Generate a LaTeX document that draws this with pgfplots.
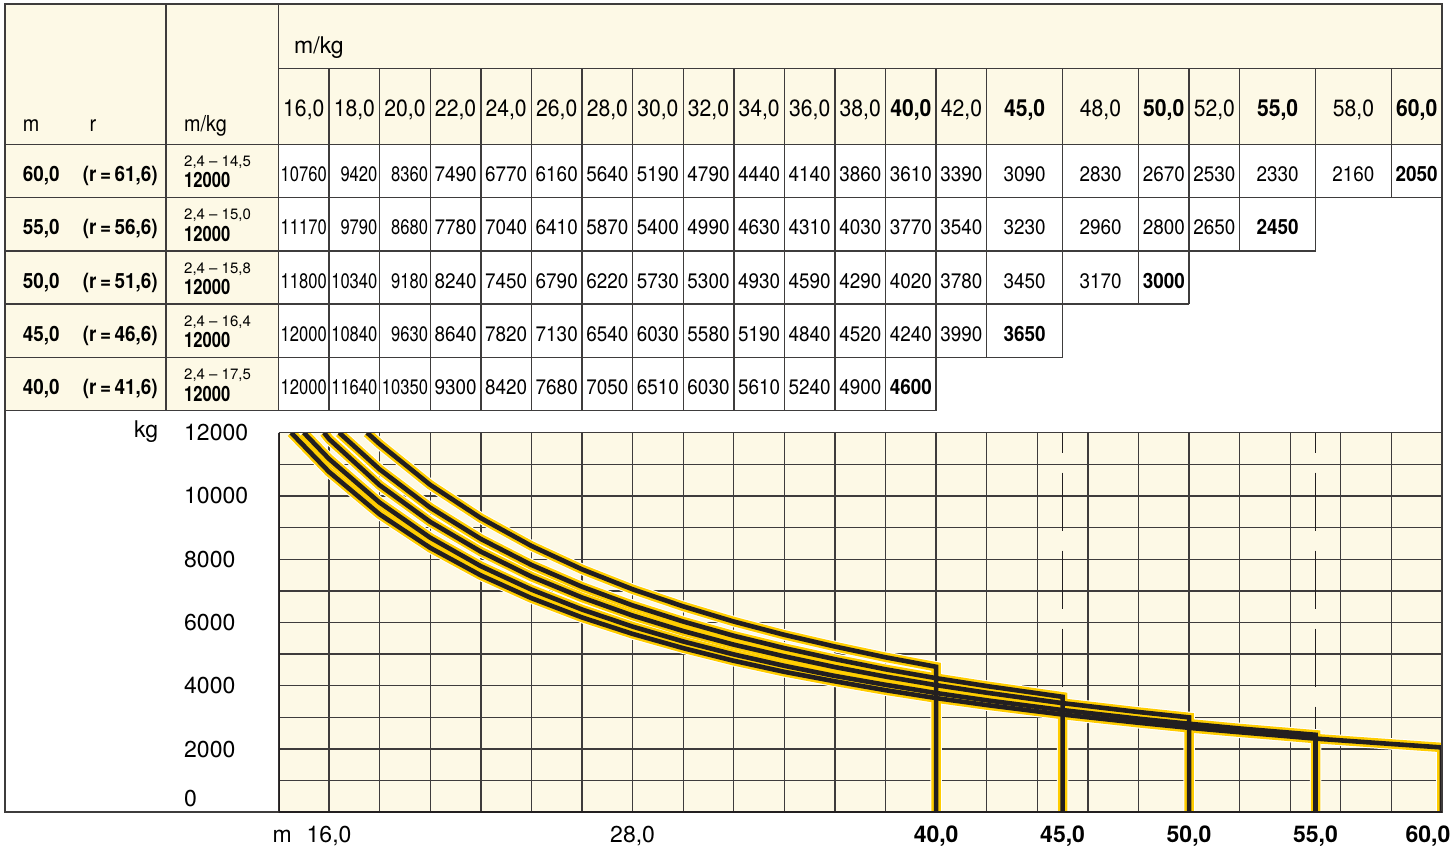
\documentclass[border=0pt]{standalone}
\usepackage{fontspec}
\setmainfont{TeX Gyre Heros}
\newfontfamily\hv[FakeStretch=0.9]{TeX Gyre Heros}
\newfontfamily\hvn[FakeStretch=0.79]{TeX Gyre Heros}
\usepackage{pgfplots}
\usepackage{pgfplotstable}
\pgfplotsset{compat=1.18}

\definecolor{cream}{RGB}{253,249,230}
\definecolor{gold}{RGB}{255,205,0}
\definecolor{ink}{RGB}{35,31,32}
\definecolor{rule}{RGB}{62,60,60}

% one table per boom length: r = radius (m), lo = left edge of its column, load (kg)
% rows with lo = nan only shape the curve (end of the 12000 kg range, drop to 0)
\pgfplotstableread{
r    lo   load
14.5 nan  12000
16   14   10760
18   16   9420
20   18   8360
22   20   7490
24   22   6770
26   24   6160
28   26   5640
30   28   5190
32   30   4790
34   32   4440
36   34   4140
38   36   3860
40   38   3610
42   40   3390
45   42   3090
48   45   2830
50   48   2670
52   50   2530
55   52   2330
58   55   2160
60   58   2050
60   nan  0
}\bsixty
\pgfplotstableread{
r    lo   load
15.0 nan  12000
16   14   11170
18   16   9790
20   18   8680
22   20   7780
24   22   7040
26   24   6410
28   26   5870
30   28   5400
32   30   4990
34   32   4630
36   34   4310
38   36   4030
40   38   3770
42   40   3540
45   42   3230
48   45   2960
50   48   2800
52   50   2650
55   52   2450
55   nan  0
}\bfiftyfive
\pgfplotstableread{
r    lo   load
15.8 nan  12000
16   14   11800
18   16   10340
20   18   9180
22   20   8240
24   22   7450
26   24   6790
28   26   6220
30   28   5730
32   30   5300
34   32   4930
36   34   4590
38   36   4290
40   38   4020
42   40   3780
45   42   3450
48   45   3170
50   48   3000
50   nan  0
}\bfifty
\pgfplotstableread{
r    lo   load
16   14   12000
16.4 nan  12000
18   16   10840
20   18   9630
22   20   8640
24   22   7820
26   24   7130
28   26   6540
30   28   6030
32   30   5580
34   32   5190
36   34   4840
38   36   4520
40   38   4240
42   40   3990
45   42   3650
45   nan  0
}\bfortyfive
\pgfplotstableread{
r    lo   load
16   14   12000
17.5 nan  12000
18   16   11640
20   18   10350
22   20   9300
24   22   8420
26   24   7680
28   26   7050
30   28   6510
32   30   6030
34   32   5610
36   34   5240
38   36   4900
40   38   4600
40   nan  0
}\bforty

\pgfplotstableread{
boom reach rmax maxload
60   61.6  14.5 12000
55   56.6  15.0 12000
50   51.6  15.8 12000
45   46.6  16.4 12000
40   41.6  17.5 12000
}\booms

\pgfplotsset{
  textonly/.style={draw=none, mark=none},
  halo/.style={white, line width=11.5pt, line join=miter},
  glow/.style={gold, line width=9.5pt, line join=miter},
  core/.style={ink, line width=4.6pt, line join=miter},
}
\tikzset{
  tbl/.style={draw=rule, line width=1.4pt},
  onedec/.style={/pgf/number format/fixed, /pgf/number format/fixed zerofill,
    /pgf/number format/precision=1, /pgf/number format/use comma,
    /pgf/number format/assume math mode=true},
}

% one row of the table: #1 table, #2 row number from the top, #3 boom length
\newcommand\loadrow[3]{%
  \addplot[textonly, point meta=explicit symbolic, restrict x to domain=0:19.5,
    nodes near coords={\makebox[46pt][r]{\pgfplotspointmeta}},
    nodes near coords style={anchor=base, inner sep=0pt, font=\fontsize{21}{24}\hvn}]
    table[x expr={(\thisrow{lo}+\thisrow{r})/2}, y expr={-181.7-53.28*#2}, meta=load] {#1};
  \addplot[textonly, point meta=explicit symbolic, restrict x to domain=20:100,
    restrict expr to domain={\thisrow{r}-#3}{-100:-1},
    nodes near coords={\pgfplotspointmeta},
    nodes near coords style={anchor=base, inner sep=0pt, font=\fontsize{21}{24}\hv}]
    table[x expr={(\thisrow{lo}+\thisrow{r})/2}, y expr={-181.7-53.28*#2}, meta=load] {#1};
  \addplot[textonly, point meta=explicit symbolic, restrict x to domain=20:100,
    restrict expr to domain={\thisrow{r}-#3}{-0.5:0.5},
    nodes near coords={\bfseries\pgfplotspointmeta},
    nodes near coords style={anchor=base, inner sep=0pt, font=\fontsize{21}{24}\hv}]
    table[x expr={(\thisrow{lo}+\thisrow{r})/2}, y expr={-181.7-53.28*#2}, meta=load] {#1};}
% one layer of a load curve: #1 style, #2 table, #3 radius where 12000 kg ends
\newcommand\loadcurve[3]{%
  \addplot[#1, restrict x to domain=#3:100] table[x=r, y=load] {#2};}
\newcommand\loadcurves[1]{%
  \loadcurve{#1}{\bsixty}{14.5}
  \loadcurve{#1}{\bfiftyfive}{15.0}
  \loadcurve{#1}{\bfifty}{15.8}
  \loadcurve{#1}{\bfortyfive}{16.4}
  \loadcurve{#1}{\bforty}{17.5}}

\begin{document}
\begin{tikzpicture}[font=\fontsize{23}{27}\selectfont]

% ---------- table: x in m (same scale as the chart), y = minus the pixel row from the top
\begin{axis}[
  at={(5pt,37.7pt)}, anchor=south west, scale only axis,
  width=1437pt, height=808.3pt,
  xmin=3.186, xmax=60, ymin=-812.3, ymax=-4,
  hide axis, clip=false,
]
  \fill[cream] (axis cs:3.186,-4) rectangle (axis cs:60,-144.3);
  \fill[cream] (axis cs:3.186,-144.3) rectangle (axis cs:14,-410.7);

  \draw[tbl] (axis cs:14,-68.3) -- (axis cs:60,-68.3);
  \draw[tbl] (axis cs:3.186,-144.3) -- (axis cs:60,-144.3);
  \draw[tbl] (axis cs:3.186,-197.6) -- (axis cs:60,-197.6);
  \draw[tbl] (axis cs:3.186,-250.9) -- (axis cs:55,-250.9);
  \draw[tbl] (axis cs:3.186,-304.1) -- (axis cs:50,-304.1);
  \draw[tbl] (axis cs:3.186,-357.4) -- (axis cs:45,-357.4);
  \draw[tbl] (axis cs:3.186,-410.7) -- (axis cs:40,-410.7);
  \draw[tbl] (axis cs:9.552,-4) -- (axis cs:9.552,-410.7);
  \draw[tbl] (axis cs:14,-4) -- (axis cs:14,-410.7);
  \foreach \b/\yb in {16/410.7,18/410.7,20/410.7,22/410.7,24/410.7,26/410.7,28/410.7,
                      30/410.7,32/410.7,34/410.7,36/410.7,38/410.7,40/410.7,
                      42/357.4,45/357.4,48/304.1,50/304.1,52/250.9,55/250.9,58/197.6}{%
    \edef\tmp{\noexpand\draw[tbl] (axis cs:\b,-68.3) -- (axis cs:\b,-\yb);}\tmp}

  \node[anchor=base west, inner sep=0pt] at (axis cs:14.613,-53.3) {m/kg};
  \node[anchor=base west, inner sep=0pt, font=\fontsize{22}{26}\hv] at (axis cs:3.885,-131.7) {m};
  \node[anchor=base west, inner sep=0pt, font=\fontsize{22}{26}\hv] at (axis cs:6.519,-131.7) {r};
  \node[anchor=base west, inner sep=0pt, font=\fontsize{22}{26}\hv] at (axis cs:10.263,-131.7) {m/kg};

  % column heads, the boom lengths in bold
  \addplot[textonly, point meta=explicit,
    restrict expr to domain={(\thisrow{r}>39)*(mod(\thisrow{r},5)==0)}{-0.5:0.5},
    nodes near coords={\pgfmathprintnumber{\pgfplotspointmeta}},
    nodes near coords style={anchor=base, inner sep=0pt, font=\fontsize{23.5}{27}\hv, onedec}]
    table[x expr={(\thisrow{lo}+\thisrow{r})/2}, y expr=-116.7, meta=r] {\bsixty};
  \addplot[textonly, point meta=explicit,
    restrict expr to domain={(\thisrow{r}>39)*(mod(\thisrow{r},5)==0)}{0.5:1.5},
    nodes near coords={\bfseries\pgfmathprintnumber{\pgfplotspointmeta}},
    nodes near coords style={anchor=base, inner sep=0pt, font=\fontsize{23.5}{27}\hv, onedec}]
    table[x expr={(\thisrow{lo}+\thisrow{r})/2}, y expr=-116.7, meta=r] {\bsixty};

  % loads
  \loadrow{\bsixty}{0}{60}
  \loadrow{\bfiftyfive}{1}{55}
  \loadrow{\bfifty}{2}{50}
  \loadrow{\bfortyfive}{3}{45}
  \loadrow{\bforty}{4}{40}

  % boom lengths, reach, radius range of the 12000 kg load
  \addplot[textonly, point meta=explicit,
    nodes near coords={\bfseries\pgfmathprintnumber{\pgfplotspointmeta}},
    nodes near coords style={anchor=base west, inner sep=0pt, font=\fontsize{21}{24}\hv, onedec}]
    table[x expr=3.885, y expr=-181.7-53.28*\coordindex, meta=boom] {\booms};
  \addplot[textonly, point meta=explicit,
    nodes near coords={\bfseries(r\,=\,\pgfmathprintnumber{\pgfplotspointmeta})},
    nodes near coords style={anchor=base west, inner sep=0pt, font=\fontsize{21}{24}\hv, onedec}]
    table[x expr=6.258, y expr=-181.7-53.28*\coordindex, meta=reach] {\booms};
  \addplot[textonly, point meta=explicit,
    nodes near coords={2,4 – \pgfmathprintnumber{\pgfplotspointmeta}},
    nodes near coords style={anchor=base west, inner sep=0pt, font=\fontsize{15}{17}\selectfont, onedec}]
    table[x expr=10.263, y expr=-166.7-53.28*\coordindex, meta=rmax] {\booms};
  \addplot[textonly, point meta=explicit symbolic,
    nodes near coords={\bfseries\pgfplotspointmeta},
    nodes near coords style={anchor=base west, inner sep=0pt, font=\fontsize{21}{24}\hvn}]
    table[x expr=10.263, y expr=-188-53.28*\coordindex, meta=maxload] {\booms};

  \draw[rule, line width=1.8pt] (rel axis cs:0,0) rectangle (rel axis cs:1,1);
\end{axis}

% ---------- load chart
\begin{axis}[
  at={(278.5pt,37.7pt)}, anchor=south west, scale only axis,
  width=1163.5pt, height=379.6pt,
  xmin=14, xmax=60, ymin=0, ymax=12000,
  axis background/.style={fill=cream},
  axis line style={draw=none},
  tick style={draw=none},
  grid=major,
  major grid style={draw=rule, line width=1.35pt},
  scaled x ticks=false, scaled y ticks=false,
  xtick={14,16,...,60},
  xticklabels={{},{\llap{m\hspace{15pt}}16,0},{},{},{},{},{},{28,0},{},{},{},{},{},{\bfseries 40,0},{},{},{},{},{\bfseries 50,0},{},{},{},{},{\bfseries 60,0\hspace*{28pt}}},
  extra x ticks={45,55},
  extra x tick labels={{\bfseries 45,0},{\bfseries 55,0}},
  extra x tick style={grid=none},
  ytick={0,1000,...,12000},
  yticklabels={{},{},2000,{},4000,{},6000,{},8000,{},10000,{},12000},
  extra y ticks={0}, extra y tick labels={0},
  extra y tick style={grid=none, yticklabel style={yshift=13.3pt}},
  ticklabel style={font=\fontsize{23}{27}\selectfont},
  xticklabel style={anchor=base, inner sep=0pt, yshift=-30.7pt},
  yticklabel style={anchor=west, inner sep=0pt, xshift=-94.5pt},
  /pgf/number format/assume math mode=true,
  ylabel={kg},
  every axis y label/.style={at={(rel axis cs:0,1)}, anchor=base west, inner sep=0pt,
    xshift=-144.5pt, yshift=-5.3pt},
]
  % long-dashed guide lines at 45 m and 55 m
  \draw[ink, line width=1.5pt, dash pattern=on 58pt off 20pt, dash phase=38pt]
    (axis cs:45,12000) -- (axis cs:45,0);
  \draw[ink, line width=1.5pt, dash pattern=on 58pt off 20pt, dash phase=38pt]
    (axis cs:55,12000) -- (axis cs:55,0);
  \loadcurves{halo}
  \loadcurves{glow}
  \loadcurves{core}
  \draw[rule, line width=1.2pt] (rel axis cs:0,1) -- (rel axis cs:1,1) -- (rel axis cs:1,0);
  \draw[ink, line width=3pt] (rel axis cs:0,1) -- (rel axis cs:0,0) -- (rel axis cs:1,0);
\end{axis}

\pgfresetboundingbox
\path[use as bounding box] (0pt,0pt) rectangle (1455pt,850pt);
\end{tikzpicture}
\end{document}
